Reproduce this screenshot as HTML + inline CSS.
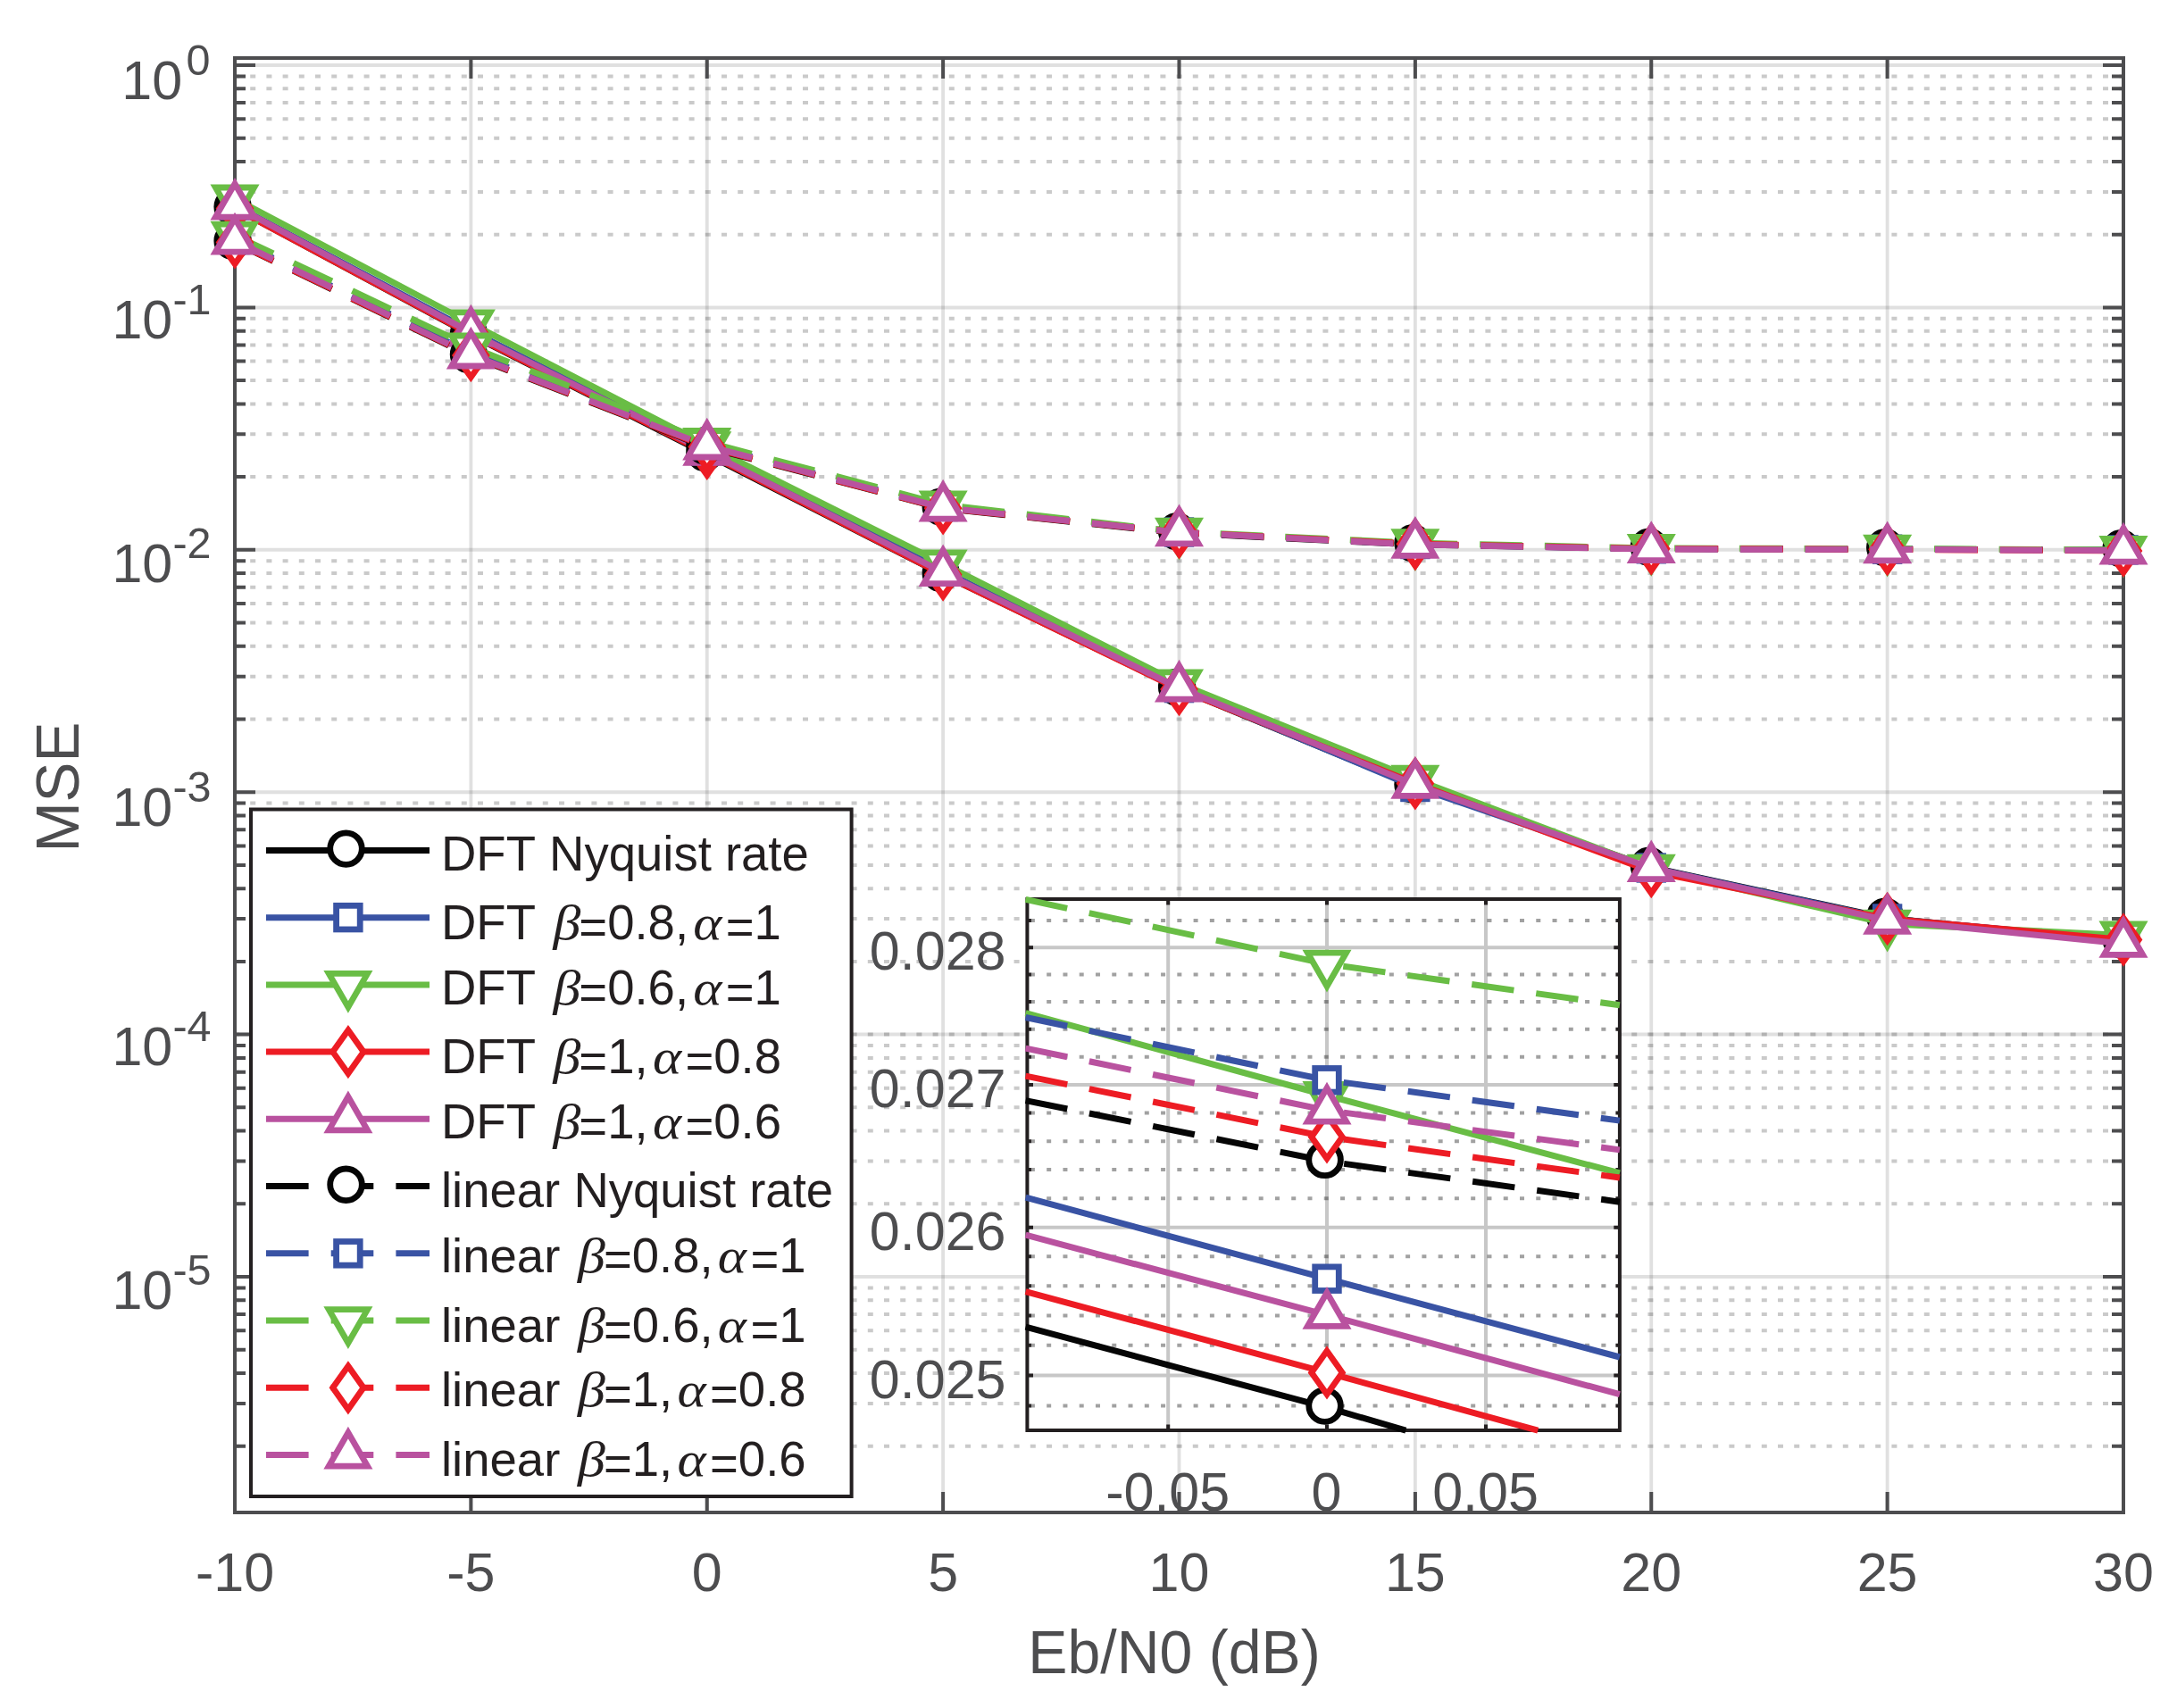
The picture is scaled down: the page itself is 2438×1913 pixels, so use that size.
<!DOCTYPE html>
<html lang="en"><head><meta charset="utf-8"><title>MSE versus Eb/N0</title>
<style>html,body{margin:0;padding:0;background:#fff}svg{display:block}text{font-family:"Liberation Sans",sans-serif}.gk{font-family:"Liberation Serif","DejaVu Serif",serif;font-style:italic;font-size:52.5px}</style></head><body>
<svg width="2438" height="1913" viewBox="0 0 2438 1913">
<rect width="2438" height="1913" fill="#fff"/>
<g id="main-grid" fill="none">
<path d="M262 262.7H2378M262 214.91H2378M262 181H2378M262 154.7H2378M262 133.21H2378M262 115.04H2378M262 99.3H2378M262 85.42H2378M262 534.1H2378M262 486.31H2378M262 452.4H2378M262 426.1H2378M262 404.61H2378M262 386.44H2378M262 370.7H2378M262 356.82H2378M262 805.5H2378M262 757.71H2378M262 723.8H2378M262 697.5H2378M262 676.01H2378M262 657.84H2378M262 642.1H2378M262 628.22H2378M262 1076.9H2378M262 1029.11H2378M262 995.2H2378M262 968.9H2378M262 947.41H2378M262 929.24H2378M262 913.5H2378M262 899.62H2378M262 1348.3H2378M262 1300.51H2378M262 1266.6H2378M262 1240.3H2378M262 1218.81H2378M262 1200.64H2378M262 1184.9H2378M262 1171.02H2378M262 1619.7H2378M262 1571.91H2378M262 1538H2378M262 1511.7H2378M262 1490.21H2378M262 1472.04H2378M262 1456.3H2378M262 1442.42H2378M262 1158.6H2378" stroke="#262626" stroke-opacity="0.245" stroke-width="4" stroke-dasharray="6 12.2"/>
<path d="M263 73H2378M263 344.4H2378M263 615.8H2378M263 887.2H2378M263 1158.6H2378M263 1430H2378" stroke="#262626" stroke-opacity="0.145" stroke-width="4"/>
<path d="M527.38 65V1694M791.75 65V1694M1056.12 65V1694M1320.5 65V1694M1584.88 65V1694M1849.25 65V1694M2113.62 65V1694" stroke="#262626" stroke-opacity="0.145" stroke-width="3.8"/>
</g>
<g id="main-axes" fill="none" stroke="#4d4d4f" stroke-width="4">
<rect x="263" y="65" width="2115" height="1629"/>
<path d="M527.38 1694v-23M527.38 65v23M791.75 1694v-23M791.75 65v23M1056.12 1694v-23M1056.12 65v23M1320.5 1694v-23M1320.5 65v23M1584.88 1694v-23M1584.88 65v23M1849.25 1694v-23M1849.25 65v23M2113.62 1694v-23M2113.62 65v23M263 73h23M2378 73h-23M263 262.7h12M2378 262.7h-13M263 214.91h12M2378 214.91h-13M263 181h12M2378 181h-13M263 154.7h12M2378 154.7h-13M263 133.21h12M2378 133.21h-13M263 115.04h12M2378 115.04h-13M263 99.3h12M2378 99.3h-13M263 85.42h12M2378 85.42h-13M263 344.4h23M2378 344.4h-23M263 534.1h12M2378 534.1h-13M263 486.31h12M2378 486.31h-13M263 452.4h12M2378 452.4h-13M263 426.1h12M2378 426.1h-13M263 404.61h12M2378 404.61h-13M263 386.44h12M2378 386.44h-13M263 370.7h12M2378 370.7h-13M263 356.82h12M2378 356.82h-13M263 615.8h23M2378 615.8h-23M263 805.5h12M2378 805.5h-13M263 757.71h12M2378 757.71h-13M263 723.8h12M2378 723.8h-13M263 697.5h12M2378 697.5h-13M263 676.01h12M2378 676.01h-13M263 657.84h12M2378 657.84h-13M263 642.1h12M2378 642.1h-13M263 628.22h12M2378 628.22h-13M263 887.2h23M2378 887.2h-23M263 1076.9h12M2378 1076.9h-13M263 1029.11h12M2378 1029.11h-13M263 995.2h12M2378 995.2h-13M263 968.9h12M2378 968.9h-13M263 947.41h12M2378 947.41h-13M263 929.24h12M2378 929.24h-13M263 913.5h12M2378 913.5h-13M263 899.62h12M2378 899.62h-13M263 1158.6h23M2378 1158.6h-23M263 1348.3h12M2378 1348.3h-13M263 1300.51h12M2378 1300.51h-13M263 1266.6h12M2378 1266.6h-13M263 1240.3h12M2378 1240.3h-13M263 1218.81h12M2378 1218.81h-13M263 1200.64h12M2378 1200.64h-13M263 1184.9h12M2378 1184.9h-13M263 1171.02h12M2378 1171.02h-13M263 1430h23M2378 1430h-23M263 1619.7h12M2378 1619.7h-13M263 1571.91h12M2378 1571.91h-13M263 1538h12M2378 1538h-13M263 1511.7h12M2378 1511.7h-13M263 1490.21h12M2378 1490.21h-13M263 1472.04h12M2378 1472.04h-13M263 1456.3h12M2378 1456.3h-13M263 1442.42h12M2378 1442.42h-13"/>
</g>
<g id="curves-dft">
<polyline points="263,233.2 527.38,375.2 791.75,508.8 1056.12,643.7 1320.5,771.4 1584.88,880.4 1849.25,971.5 2113.62,1028.4 2378,1054" fill="none" stroke="#050505" stroke-width="7" stroke-linejoin="round"/>
<circle cx="260.6" cy="231.4" r="17.8" fill="#fff" stroke="#050505" stroke-width="6.8" stroke-linejoin="miter" stroke-miterlimit="10"/><circle cx="524.98" cy="373.4" r="17.8" fill="#fff" stroke="#050505" stroke-width="6.8" stroke-linejoin="miter" stroke-miterlimit="10"/><circle cx="789.35" cy="507" r="17.8" fill="#fff" stroke="#050505" stroke-width="6.8" stroke-linejoin="miter" stroke-miterlimit="10"/><circle cx="1053.72" cy="641.9" r="17.8" fill="#fff" stroke="#050505" stroke-width="6.8" stroke-linejoin="miter" stroke-miterlimit="10"/><circle cx="1318.1" cy="769.6" r="17.8" fill="#fff" stroke="#050505" stroke-width="6.8" stroke-linejoin="miter" stroke-miterlimit="10"/><circle cx="1582.47" cy="878.6" r="17.8" fill="#fff" stroke="#050505" stroke-width="6.8" stroke-linejoin="miter" stroke-miterlimit="10"/><circle cx="1846.85" cy="969.7" r="17.8" fill="#fff" stroke="#050505" stroke-width="6.8" stroke-linejoin="miter" stroke-miterlimit="10"/><circle cx="2111.22" cy="1026.6" r="17.8" fill="#fff" stroke="#050505" stroke-width="6.8" stroke-linejoin="miter" stroke-miterlimit="10"/><circle cx="2375.6" cy="1052.2" r="17.8" fill="#fff" stroke="#050505" stroke-width="6.8" stroke-linejoin="miter" stroke-miterlimit="10"/>
<polyline points="263,230 527.38,370.7 791.75,504.8 1056.12,639 1320.5,770.6 1584.88,881.5 1849.25,972 2113.62,1029 2378,1053" fill="none" stroke="#3953a4" stroke-width="7" stroke-linejoin="round"/>
<rect x="249.7" y="216.7" width="26.6" height="26.6" fill="#fff" stroke="#3953a4" stroke-width="6.8" stroke-linejoin="miter" stroke-miterlimit="10"/><rect x="514.08" y="357.4" width="26.6" height="26.6" fill="#fff" stroke="#3953a4" stroke-width="6.8" stroke-linejoin="miter" stroke-miterlimit="10"/><rect x="778.45" y="491.5" width="26.6" height="26.6" fill="#fff" stroke="#3953a4" stroke-width="6.8" stroke-linejoin="miter" stroke-miterlimit="10"/><rect x="1042.83" y="625.7" width="26.6" height="26.6" fill="#fff" stroke="#3953a4" stroke-width="6.8" stroke-linejoin="miter" stroke-miterlimit="10"/><rect x="1307.2" y="757.3" width="26.6" height="26.6" fill="#fff" stroke="#3953a4" stroke-width="6.8" stroke-linejoin="miter" stroke-miterlimit="10"/><rect x="1571.58" y="868.2" width="26.6" height="26.6" fill="#fff" stroke="#3953a4" stroke-width="6.8" stroke-linejoin="miter" stroke-miterlimit="10"/><rect x="1835.95" y="958.7" width="26.6" height="26.6" fill="#fff" stroke="#3953a4" stroke-width="6.8" stroke-linejoin="miter" stroke-miterlimit="10"/><rect x="2100.32" y="1015.7" width="26.6" height="26.6" fill="#fff" stroke="#3953a4" stroke-width="6.8" stroke-linejoin="miter" stroke-miterlimit="10"/><rect x="2364.7" y="1039.7" width="26.6" height="26.6" fill="#fff" stroke="#3953a4" stroke-width="6.8" stroke-linejoin="miter" stroke-miterlimit="10"/>
<polyline points="263,222.5 527.38,362.3 791.75,499.1 1056.12,631.4 1320.5,765.4 1584.88,872.7 1849.25,972.6 2113.62,1034.7 2378,1047.4" fill="none" stroke="#69bd45" stroke-width="7" stroke-linejoin="round"/>
<path d="M241.35 210L284.65 210L263 247.5Z" fill="#fff" stroke="#69bd45" stroke-width="6.8" stroke-linejoin="miter" stroke-miterlimit="10"/><path d="M505.73 349.8L549.02 349.8L527.38 387.3Z" fill="#fff" stroke="#69bd45" stroke-width="6.8" stroke-linejoin="miter" stroke-miterlimit="10"/><path d="M770.1 486.6L813.4 486.6L791.75 524.1Z" fill="#fff" stroke="#69bd45" stroke-width="6.8" stroke-linejoin="miter" stroke-miterlimit="10"/><path d="M1034.47 618.9L1077.78 618.9L1056.12 656.4Z" fill="#fff" stroke="#69bd45" stroke-width="6.8" stroke-linejoin="miter" stroke-miterlimit="10"/><path d="M1298.85 752.9L1342.15 752.9L1320.5 790.4Z" fill="#fff" stroke="#69bd45" stroke-width="6.8" stroke-linejoin="miter" stroke-miterlimit="10"/><path d="M1563.22 860.2L1606.53 860.2L1584.88 897.7Z" fill="#fff" stroke="#69bd45" stroke-width="6.8" stroke-linejoin="miter" stroke-miterlimit="10"/><path d="M1827.6 960.1L1870.9 960.1L1849.25 997.6Z" fill="#fff" stroke="#69bd45" stroke-width="6.8" stroke-linejoin="miter" stroke-miterlimit="10"/><path d="M2091.97 1022.2L2135.28 1022.2L2113.62 1059.7Z" fill="#fff" stroke="#69bd45" stroke-width="6.8" stroke-linejoin="miter" stroke-miterlimit="10"/><path d="M2356.35 1034.9L2399.65 1034.9L2378 1072.4Z" fill="#fff" stroke="#69bd45" stroke-width="6.8" stroke-linejoin="miter" stroke-miterlimit="10"/>
<polyline points="263,233.5 527.38,374.6 791.75,507.7 1056.12,643.6 1320.5,772 1584.88,877.4 1849.25,976 2113.62,1029 2378,1052.5" fill="none" stroke="#ed1c24" stroke-width="7" stroke-linejoin="round"/>
<path d="M263 209.2L280.2 233.5L263 257.8L245.8 233.5Z" fill="#fff" stroke="#ed1c24" stroke-width="6.8" stroke-linejoin="miter" stroke-miterlimit="10"/><path d="M527.38 350.3L544.58 374.6L527.38 398.9L510.18 374.6Z" fill="#fff" stroke="#ed1c24" stroke-width="6.8" stroke-linejoin="miter" stroke-miterlimit="10"/><path d="M791.75 483.4L808.95 507.7L791.75 532L774.55 507.7Z" fill="#fff" stroke="#ed1c24" stroke-width="6.8" stroke-linejoin="miter" stroke-miterlimit="10"/><path d="M1056.12 619.3L1073.33 643.6L1056.12 667.9L1038.92 643.6Z" fill="#fff" stroke="#ed1c24" stroke-width="6.8" stroke-linejoin="miter" stroke-miterlimit="10"/><path d="M1320.5 747.7L1337.7 772L1320.5 796.3L1303.3 772Z" fill="#fff" stroke="#ed1c24" stroke-width="6.8" stroke-linejoin="miter" stroke-miterlimit="10"/><path d="M1584.88 853.1L1602.08 877.4L1584.88 901.7L1567.67 877.4Z" fill="#fff" stroke="#ed1c24" stroke-width="6.8" stroke-linejoin="miter" stroke-miterlimit="10"/><path d="M1849.25 951.7L1866.45 976L1849.25 1000.3L1832.05 976Z" fill="#fff" stroke="#ed1c24" stroke-width="6.8" stroke-linejoin="miter" stroke-miterlimit="10"/><path d="M2113.62 1004.7L2130.82 1029L2113.62 1053.3L2096.43 1029Z" fill="#fff" stroke="#ed1c24" stroke-width="6.8" stroke-linejoin="miter" stroke-miterlimit="10"/><path d="M2378 1028.2L2395.2 1052.5L2378 1076.8L2360.8 1052.5Z" fill="#fff" stroke="#ed1c24" stroke-width="6.8" stroke-linejoin="miter" stroke-miterlimit="10"/>
<polyline points="263,230.7 527.38,372.5 791.75,505.9 1056.12,641.2 1320.5,770.6 1584.88,878.9 1849.25,972.2 2113.62,1030.8 2378,1056.9" fill="none" stroke="#b9529f" stroke-width="7" stroke-linejoin="round"/>
<path d="M241.35 243.2L284.65 243.2L263 205.7Z" fill="#fff" stroke="#b9529f" stroke-width="6.8" stroke-linejoin="miter" stroke-miterlimit="10"/><path d="M505.73 385L549.02 385L527.38 347.5Z" fill="#fff" stroke="#b9529f" stroke-width="6.8" stroke-linejoin="miter" stroke-miterlimit="10"/><path d="M770.1 518.4L813.4 518.4L791.75 480.9Z" fill="#fff" stroke="#b9529f" stroke-width="6.8" stroke-linejoin="miter" stroke-miterlimit="10"/><path d="M1034.47 653.7L1077.78 653.7L1056.12 616.2Z" fill="#fff" stroke="#b9529f" stroke-width="6.8" stroke-linejoin="miter" stroke-miterlimit="10"/><path d="M1298.85 783.1L1342.15 783.1L1320.5 745.6Z" fill="#fff" stroke="#b9529f" stroke-width="6.8" stroke-linejoin="miter" stroke-miterlimit="10"/><path d="M1563.22 891.4L1606.53 891.4L1584.88 853.9Z" fill="#fff" stroke="#b9529f" stroke-width="6.8" stroke-linejoin="miter" stroke-miterlimit="10"/><path d="M1827.6 984.7L1870.9 984.7L1849.25 947.2Z" fill="#fff" stroke="#b9529f" stroke-width="6.8" stroke-linejoin="miter" stroke-miterlimit="10"/><path d="M2091.97 1043.3L2135.28 1043.3L2113.62 1005.8Z" fill="#fff" stroke="#b9529f" stroke-width="6.8" stroke-linejoin="miter" stroke-miterlimit="10"/><path d="M2356.35 1069.4L2399.65 1069.4L2378 1031.9Z" fill="#fff" stroke="#b9529f" stroke-width="6.8" stroke-linejoin="miter" stroke-miterlimit="10"/>
</g>
<g id="curves-linear">
<polyline points="263,271.6 527.38,398.8 791.75,501.1 1056.12,569.4 1320.5,597 1584.88,610 1849.25,614.5 2113.62,615 2378,616.1" fill="none" stroke="#050505" stroke-width="7" stroke-linejoin="round" stroke-dasharray="47.6 25.1"/>
<circle cx="260.6" cy="269.8" r="17.8" fill="#fff" stroke="#050505" stroke-width="6.8" stroke-linejoin="miter" stroke-miterlimit="10"/><circle cx="524.98" cy="397" r="17.8" fill="#fff" stroke="#050505" stroke-width="6.8" stroke-linejoin="miter" stroke-miterlimit="10"/><circle cx="789.35" cy="499.3" r="17.8" fill="#fff" stroke="#050505" stroke-width="6.8" stroke-linejoin="miter" stroke-miterlimit="10"/><circle cx="1053.72" cy="567.6" r="17.8" fill="#fff" stroke="#050505" stroke-width="6.8" stroke-linejoin="miter" stroke-miterlimit="10"/><circle cx="1318.1" cy="595.2" r="17.8" fill="#fff" stroke="#050505" stroke-width="6.8" stroke-linejoin="miter" stroke-miterlimit="10"/><circle cx="1582.47" cy="608.2" r="17.8" fill="#fff" stroke="#050505" stroke-width="6.8" stroke-linejoin="miter" stroke-miterlimit="10"/><circle cx="1846.85" cy="612.7" r="17.8" fill="#fff" stroke="#050505" stroke-width="6.8" stroke-linejoin="miter" stroke-miterlimit="10"/><circle cx="2111.22" cy="613.2" r="17.8" fill="#fff" stroke="#050505" stroke-width="6.8" stroke-linejoin="miter" stroke-miterlimit="10"/><circle cx="2375.6" cy="614.3" r="17.8" fill="#fff" stroke="#050505" stroke-width="6.8" stroke-linejoin="miter" stroke-miterlimit="10"/>
<polyline points="263,268.5 527.38,395.3 791.75,498.6 1056.12,567.5 1320.5,596 1584.88,609.5 1849.25,614.8 2113.62,615.2 2378,615.9" fill="none" stroke="#3953a4" stroke-width="7" stroke-linejoin="round" stroke-dasharray="47.6 25.1"/>
<rect x="249.7" y="255.2" width="26.6" height="26.6" fill="#fff" stroke="#3953a4" stroke-width="6.8" stroke-linejoin="miter" stroke-miterlimit="10"/><rect x="514.08" y="382" width="26.6" height="26.6" fill="#fff" stroke="#3953a4" stroke-width="6.8" stroke-linejoin="miter" stroke-miterlimit="10"/><rect x="778.45" y="485.3" width="26.6" height="26.6" fill="#fff" stroke="#3953a4" stroke-width="6.8" stroke-linejoin="miter" stroke-miterlimit="10"/><rect x="1042.83" y="554.2" width="26.6" height="26.6" fill="#fff" stroke="#3953a4" stroke-width="6.8" stroke-linejoin="miter" stroke-miterlimit="10"/><rect x="1307.2" y="582.7" width="26.6" height="26.6" fill="#fff" stroke="#3953a4" stroke-width="6.8" stroke-linejoin="miter" stroke-miterlimit="10"/><rect x="1571.58" y="596.2" width="26.6" height="26.6" fill="#fff" stroke="#3953a4" stroke-width="6.8" stroke-linejoin="miter" stroke-miterlimit="10"/><rect x="1835.95" y="601.5" width="26.6" height="26.6" fill="#fff" stroke="#3953a4" stroke-width="6.8" stroke-linejoin="miter" stroke-miterlimit="10"/><rect x="2100.32" y="601.9" width="26.6" height="26.6" fill="#fff" stroke="#3953a4" stroke-width="6.8" stroke-linejoin="miter" stroke-miterlimit="10"/><rect x="2364.7" y="602.6" width="26.6" height="26.6" fill="#fff" stroke="#3953a4" stroke-width="6.8" stroke-linejoin="miter" stroke-miterlimit="10"/>
<polyline points="263,263.6 527.38,388.5 791.75,495 1056.12,565.3 1320.5,595.6 1584.88,608.1 1849.25,614 2113.62,614.6 2378,615.8" fill="none" stroke="#69bd45" stroke-width="7" stroke-linejoin="round" stroke-dasharray="47.6 25.1"/>
<path d="M241.35 251.1L284.65 251.1L263 288.6Z" fill="#fff" stroke="#69bd45" stroke-width="6.8" stroke-linejoin="miter" stroke-miterlimit="10"/><path d="M505.73 376L549.02 376L527.38 413.5Z" fill="#fff" stroke="#69bd45" stroke-width="6.8" stroke-linejoin="miter" stroke-miterlimit="10"/><path d="M770.1 482.5L813.4 482.5L791.75 520Z" fill="#fff" stroke="#69bd45" stroke-width="6.8" stroke-linejoin="miter" stroke-miterlimit="10"/><path d="M1034.47 552.8L1077.78 552.8L1056.12 590.3Z" fill="#fff" stroke="#69bd45" stroke-width="6.8" stroke-linejoin="miter" stroke-miterlimit="10"/><path d="M1298.85 583.1L1342.15 583.1L1320.5 620.6Z" fill="#fff" stroke="#69bd45" stroke-width="6.8" stroke-linejoin="miter" stroke-miterlimit="10"/><path d="M1563.22 595.6L1606.53 595.6L1584.88 633.1Z" fill="#fff" stroke="#69bd45" stroke-width="6.8" stroke-linejoin="miter" stroke-miterlimit="10"/><path d="M1827.6 601.5L1870.9 601.5L1849.25 639Z" fill="#fff" stroke="#69bd45" stroke-width="6.8" stroke-linejoin="miter" stroke-miterlimit="10"/><path d="M2091.97 602.1L2135.28 602.1L2113.62 639.6Z" fill="#fff" stroke="#69bd45" stroke-width="6.8" stroke-linejoin="miter" stroke-miterlimit="10"/><path d="M2356.35 603.3L2399.65 603.3L2378 640.8Z" fill="#fff" stroke="#69bd45" stroke-width="6.8" stroke-linejoin="miter" stroke-miterlimit="10"/>
<polyline points="263,271.4 527.38,398.1 791.75,500.4 1056.12,569.2 1320.5,596.3 1584.88,609.2 1849.25,614.6 2113.62,615.3 2378,616.9" fill="none" stroke="#ed1c24" stroke-width="7" stroke-linejoin="round" stroke-dasharray="47.6 25.1"/>
<path d="M263 247.1L280.2 271.4L263 295.7L245.8 271.4Z" fill="#fff" stroke="#ed1c24" stroke-width="6.8" stroke-linejoin="miter" stroke-miterlimit="10"/><path d="M527.38 373.8L544.58 398.1L527.38 422.4L510.18 398.1Z" fill="#fff" stroke="#ed1c24" stroke-width="6.8" stroke-linejoin="miter" stroke-miterlimit="10"/><path d="M791.75 476.1L808.95 500.4L791.75 524.7L774.55 500.4Z" fill="#fff" stroke="#ed1c24" stroke-width="6.8" stroke-linejoin="miter" stroke-miterlimit="10"/><path d="M1056.12 544.9L1073.33 569.2L1056.12 593.5L1038.92 569.2Z" fill="#fff" stroke="#ed1c24" stroke-width="6.8" stroke-linejoin="miter" stroke-miterlimit="10"/><path d="M1320.5 572L1337.7 596.3L1320.5 620.6L1303.3 596.3Z" fill="#fff" stroke="#ed1c24" stroke-width="6.8" stroke-linejoin="miter" stroke-miterlimit="10"/><path d="M1584.88 584.9L1602.08 609.2L1584.88 633.5L1567.67 609.2Z" fill="#fff" stroke="#ed1c24" stroke-width="6.8" stroke-linejoin="miter" stroke-miterlimit="10"/><path d="M1849.25 590.3L1866.45 614.6L1849.25 638.9L1832.05 614.6Z" fill="#fff" stroke="#ed1c24" stroke-width="6.8" stroke-linejoin="miter" stroke-miterlimit="10"/><path d="M2113.62 591L2130.82 615.3L2113.62 639.6L2096.43 615.3Z" fill="#fff" stroke="#ed1c24" stroke-width="6.8" stroke-linejoin="miter" stroke-miterlimit="10"/><path d="M2378 592.6L2395.2 616.9L2378 641.2L2360.8 616.9Z" fill="#fff" stroke="#ed1c24" stroke-width="6.8" stroke-linejoin="miter" stroke-miterlimit="10"/>
<polyline points="263,269.6 527.38,397.5 791.75,499.5 1056.12,568.6 1320.5,596.3 1584.88,609.9 1849.25,615.1 2113.62,615.3 2378,616.6" fill="none" stroke="#b9529f" stroke-width="7" stroke-linejoin="round" stroke-dasharray="47.6 25.1"/>
<path d="M241.35 282.1L284.65 282.1L263 244.6Z" fill="#fff" stroke="#b9529f" stroke-width="6.8" stroke-linejoin="miter" stroke-miterlimit="10"/><path d="M505.73 410L549.02 410L527.38 372.5Z" fill="#fff" stroke="#b9529f" stroke-width="6.8" stroke-linejoin="miter" stroke-miterlimit="10"/><path d="M770.1 512L813.4 512L791.75 474.5Z" fill="#fff" stroke="#b9529f" stroke-width="6.8" stroke-linejoin="miter" stroke-miterlimit="10"/><path d="M1034.47 581.1L1077.78 581.1L1056.12 543.6Z" fill="#fff" stroke="#b9529f" stroke-width="6.8" stroke-linejoin="miter" stroke-miterlimit="10"/><path d="M1298.85 608.8L1342.15 608.8L1320.5 571.3Z" fill="#fff" stroke="#b9529f" stroke-width="6.8" stroke-linejoin="miter" stroke-miterlimit="10"/><path d="M1563.22 622.4L1606.53 622.4L1584.88 584.9Z" fill="#fff" stroke="#b9529f" stroke-width="6.8" stroke-linejoin="miter" stroke-miterlimit="10"/><path d="M1827.6 627.6L1870.9 627.6L1849.25 590.1Z" fill="#fff" stroke="#b9529f" stroke-width="6.8" stroke-linejoin="miter" stroke-miterlimit="10"/><path d="M2091.97 627.8L2135.28 627.8L2113.62 590.3Z" fill="#fff" stroke="#b9529f" stroke-width="6.8" stroke-linejoin="miter" stroke-miterlimit="10"/><path d="M2356.35 629.1L2399.65 629.1L2378 591.6Z" fill="#fff" stroke="#b9529f" stroke-width="6.8" stroke-linejoin="miter" stroke-miterlimit="10"/>
</g>
<g id="main-labels" fill="#4d4d4f" font-size="61">
<text x="263" y="1781.5" text-anchor="middle">-10</text>
<text x="527.38" y="1781.5" text-anchor="middle">-5</text>
<text x="791.75" y="1781.5" text-anchor="middle">0</text>
<text x="1056.12" y="1781.5" text-anchor="middle">5</text>
<text x="1320.5" y="1781.5" text-anchor="middle">10</text>
<text x="1584.88" y="1781.5" text-anchor="middle">15</text>
<text x="1849.25" y="1781.5" text-anchor="middle">20</text>
<text x="2113.62" y="1781.5" text-anchor="middle">25</text>
<text x="2378" y="1781.5" text-anchor="middle">30</text>
<text x="235.6" y="110.8" text-anchor="end">10<tspan font-size="48.5" dx="4.5" dy="-26.9">0</tspan></text>
<text x="236.6" y="379.3" text-anchor="end">10<tspan font-size="48.5" dx="0.2" dy="-26.9">-1</tspan></text>
<text x="236.6" y="651.6" text-anchor="end">10<tspan font-size="48.5" dx="0.2" dy="-26.9">-2</tspan></text>
<text x="236.6" y="925.1" text-anchor="end">10<tspan font-size="48.5" dx="0.2" dy="-26.9">-3</tspan></text>
<text x="236.6" y="1193.1" text-anchor="end">10<tspan font-size="48.5" dx="0.2" dy="-26.9">-4</tspan></text>
<text x="236.6" y="1465.8" text-anchor="end">10<tspan font-size="48.5" dx="0.2" dy="-26.9">-5</tspan></text>
<text transform="translate(1315 1873.7) scale(1 1.037)" text-anchor="middle" font-size="66.2">Eb/N0 (dB)</text>
<text transform="translate(87.5 881.5) rotate(-90) scale(1 1.02)" text-anchor="middle" font-size="67.4">MSE</text>
</g>
<g id="legend">
<rect x="281" y="906.5" width="672.6" height="769.5" fill="#fff" stroke="#231f20" stroke-width="4"/>
<line x1="298" y1="952.4" x2="481" y2="952.4" stroke="#050505" stroke-width="7"/>
<circle cx="387.5" cy="950.6" r="17.8" fill="#fff" stroke="#050505" stroke-width="6.8" stroke-linejoin="miter" stroke-miterlimit="10"/>
<text transform="translate(0 975.2) scale(1 1.026)" x="494" font-size="54.5" fill="#231f20">DFT</text><text transform="translate(0 975.2) scale(1 1.012)" x="615.1" font-size="54.5" fill="#231f20">Nyquist rate</text>
<line x1="298" y1="1027.64" x2="481" y2="1027.64" stroke="#3953a4" stroke-width="7"/>
<rect x="376.6" y="1014.34" width="26.6" height="26.6" fill="#fff" stroke="#3953a4" stroke-width="6.8" stroke-linejoin="miter" stroke-miterlimit="10"/>
<text transform="translate(0 1052.1) scale(1 1.026)" x="494" font-size="54.5" fill="#231f20">DFT</text>
<text transform="translate(0 1052.1) scale(1 1.026)" font-size="54.5" fill="#231f20"><tspan class="gk" lengthAdjust="spacingAndGlyphs" x="619.4" textLength="30.8">β</tspan><tspan x="648.3" dy="4.4">=</tspan><tspan dy="-4.4">0.8,</tspan><tspan class="gk" lengthAdjust="spacingAndGlyphs" x="776.2" textLength="32.2">α</tspan><tspan x="812.8" dy="4.4">=</tspan><tspan dy="-4.4">1</tspan></text>
<line x1="298" y1="1102.88" x2="481" y2="1102.88" stroke="#69bd45" stroke-width="7"/>
<path d="M368.25 1090.38L411.55 1090.38L389.9 1127.88Z" fill="#fff" stroke="#69bd45" stroke-width="6.8" stroke-linejoin="miter" stroke-miterlimit="10"/>
<text transform="translate(0 1125.2) scale(1 1.026)" x="494" font-size="54.5" fill="#231f20">DFT</text>
<text transform="translate(0 1125.2) scale(1 1.026)" font-size="54.5" fill="#231f20"><tspan class="gk" lengthAdjust="spacingAndGlyphs" x="619.4" textLength="30.8">β</tspan><tspan x="648.3" dy="4.4">=</tspan><tspan dy="-4.4">0.6,</tspan><tspan class="gk" lengthAdjust="spacingAndGlyphs" x="776.2" textLength="32.2">α</tspan><tspan x="812.8" dy="4.4">=</tspan><tspan dy="-4.4">1</tspan></text>
<line x1="298" y1="1178.12" x2="481" y2="1178.12" stroke="#ed1c24" stroke-width="7"/>
<path d="M389.9 1153.82L407.1 1178.12L389.9 1202.42L372.7 1178.12Z" fill="#fff" stroke="#ed1c24" stroke-width="6.8" stroke-linejoin="miter" stroke-miterlimit="10"/>
<text transform="translate(0 1202.4) scale(1 1.026)" x="494" font-size="54.5" fill="#231f20">DFT</text>
<text transform="translate(0 1202.4) scale(1 1.026)" font-size="54.5" fill="#231f20"><tspan class="gk" lengthAdjust="spacingAndGlyphs" x="619.4" textLength="30.8">β</tspan><tspan x="648.3" dy="4.4">=</tspan><tspan dy="-4.4">1,</tspan><tspan class="gk" lengthAdjust="spacingAndGlyphs" x="731" textLength="32.2">α</tspan><tspan x="767.4" dy="4.4">=</tspan><tspan dy="-4.4">0.8</tspan></text>
<line x1="298" y1="1253.36" x2="481" y2="1253.36" stroke="#b9529f" stroke-width="7"/>
<path d="M368.25 1265.86L411.55 1265.86L389.9 1228.36Z" fill="#fff" stroke="#b9529f" stroke-width="6.8" stroke-linejoin="miter" stroke-miterlimit="10"/>
<text transform="translate(0 1275.2) scale(1 1.026)" x="494" font-size="54.5" fill="#231f20">DFT</text>
<text transform="translate(0 1275.2) scale(1 1.026)" font-size="54.5" fill="#231f20"><tspan class="gk" lengthAdjust="spacingAndGlyphs" x="619.4" textLength="30.8">β</tspan><tspan x="648.3" dy="4.4">=</tspan><tspan dy="-4.4">1,</tspan><tspan class="gk" lengthAdjust="spacingAndGlyphs" x="731" textLength="32.2">α</tspan><tspan x="767.4" dy="4.4">=</tspan><tspan dy="-4.4">0.6</tspan></text>
<line x1="298" y1="1328.6" x2="481" y2="1328.6" stroke="#050505" stroke-width="7" stroke-dasharray="47.6 25.1"/>
<circle cx="387.5" cy="1326.8" r="17.8" fill="#fff" stroke="#050505" stroke-width="6.8" stroke-linejoin="miter" stroke-miterlimit="10"/>
<text transform="translate(0 1351.8) scale(1 1.012)" x="494" font-size="54.5" fill="#231f20">linear Nyquist rate</text>
<line x1="298" y1="1403.84" x2="481" y2="1403.84" stroke="#3953a4" stroke-width="7" stroke-dasharray="47.6 25.1"/>
<rect x="376.6" y="1390.54" width="26.6" height="26.6" fill="#fff" stroke="#3953a4" stroke-width="6.8" stroke-linejoin="miter" stroke-miterlimit="10"/>
<text transform="translate(0 1424.9) scale(1 1.0)" x="494" font-size="54.5" fill="#231f20">linear</text>
<text transform="translate(0 1424.9) scale(1 1.026)" font-size="54.5" fill="#231f20"><tspan class="gk" lengthAdjust="spacingAndGlyphs" x="647" textLength="30.8">β</tspan><tspan x="675.9" dy="4.4">=</tspan><tspan dy="-4.4">0.8,</tspan><tspan class="gk" lengthAdjust="spacingAndGlyphs" x="803.8" textLength="32.2">α</tspan><tspan x="840.4" dy="4.4">=</tspan><tspan dy="-4.4">1</tspan></text>
<line x1="298" y1="1479.08" x2="481" y2="1479.08" stroke="#69bd45" stroke-width="7" stroke-dasharray="47.6 25.1"/>
<path d="M368.25 1466.58L411.55 1466.58L389.9 1504.08Z" fill="#fff" stroke="#69bd45" stroke-width="6.8" stroke-linejoin="miter" stroke-miterlimit="10"/>
<text transform="translate(0 1503) scale(1 1.0)" x="494" font-size="54.5" fill="#231f20">linear</text>
<text transform="translate(0 1503) scale(1 1.026)" font-size="54.5" fill="#231f20"><tspan class="gk" lengthAdjust="spacingAndGlyphs" x="647" textLength="30.8">β</tspan><tspan x="675.9" dy="4.4">=</tspan><tspan dy="-4.4">0.6,</tspan><tspan class="gk" lengthAdjust="spacingAndGlyphs" x="803.8" textLength="32.2">α</tspan><tspan x="840.4" dy="4.4">=</tspan><tspan dy="-4.4">1</tspan></text>
<line x1="298" y1="1554.32" x2="481" y2="1554.32" stroke="#ed1c24" stroke-width="7" stroke-dasharray="47.6 25.1"/>
<path d="M389.9 1530.02L407.1 1554.32L389.9 1578.62L372.7 1554.32Z" fill="#fff" stroke="#ed1c24" stroke-width="6.8" stroke-linejoin="miter" stroke-miterlimit="10"/>
<text transform="translate(0 1575) scale(1 1.0)" x="494" font-size="54.5" fill="#231f20">linear</text>
<text transform="translate(0 1575) scale(1 1.026)" font-size="54.5" fill="#231f20"><tspan class="gk" lengthAdjust="spacingAndGlyphs" x="647" textLength="30.8">β</tspan><tspan x="675.9" dy="4.4">=</tspan><tspan dy="-4.4">1,</tspan><tspan class="gk" lengthAdjust="spacingAndGlyphs" x="758.6" textLength="32.2">α</tspan><tspan x="795" dy="4.4">=</tspan><tspan dy="-4.4">0.8</tspan></text>
<line x1="298" y1="1629.56" x2="481" y2="1629.56" stroke="#b9529f" stroke-width="7" stroke-dasharray="47.6 25.1"/>
<path d="M368.25 1642.06L411.55 1642.06L389.9 1604.56Z" fill="#fff" stroke="#b9529f" stroke-width="6.8" stroke-linejoin="miter" stroke-miterlimit="10"/>
<text transform="translate(0 1653.1) scale(1 1.0)" x="494" font-size="54.5" fill="#231f20">linear</text>
<text transform="translate(0 1653.1) scale(1 1.026)" font-size="54.5" fill="#231f20"><tspan class="gk" lengthAdjust="spacingAndGlyphs" x="647" textLength="30.8">β</tspan><tspan x="675.9" dy="4.4">=</tspan><tspan dy="-4.4">1,</tspan><tspan class="gk" lengthAdjust="spacingAndGlyphs" x="758.6" textLength="32.2">α</tspan><tspan x="795" dy="4.4">=</tspan><tspan dy="-4.4">0.6</tspan></text>
</g>
<g id="inset">
<rect x="1150.4" y="1007" width="663.5" height="595.1" fill="#fff"/>
<path d="M1153.9 1574.52H1813.9M1153.9 1506.84H1813.9M1153.9 1473.4H1813.9M1153.9 1440.23H1813.9M1153.9 1407.31H1813.9M1153.9 1342.23H1813.9M1153.9 1310.06H1813.9M1153.9 1278.14H1813.9M1153.9 1246.45H1813.9M1153.9 1183.78H1813.9M1153.9 1152.79H1813.9M1153.9 1122.03H1813.9M1153.9 1091.49H1813.9M1153.9 1031.06H1813.9" fill="none" stroke="#262626" stroke-opacity="0.43" stroke-width="4" stroke-dasharray="5 13.27"/>
<path d="M1150.4 1540.55H1813.9M1150.4 1374.64H1813.9M1150.4 1215H1813.9M1150.4 1061.16H1813.9M1308.2 1007V1602.1M1486 1007V1602.1M1664 1007V1602.1" fill="none" stroke="#262626" stroke-opacity="0.26" stroke-width="4"/>
<path d="M1150.4 1007H1813.9V1602.1H1150.4ZM1308.2 1602.1v-6.6M1308.2 1007v6.6M1486 1602.1v-6.6M1486 1007v6.6M1664 1602.1v-6.6M1664 1007v6.6M1150.4 1540.55h6.6M1813.9 1540.55h-6.6M1150.4 1374.64h6.6M1813.9 1374.64h-6.6M1150.4 1215h6.6M1813.9 1215h-6.6M1150.4 1061.16h6.6M1813.9 1061.16h-6.6M1150.4 1574.52h4.5M1813.9 1574.52h-4.5M1150.4 1506.84h4.5M1813.9 1506.84h-4.5M1150.4 1473.4h4.5M1813.9 1473.4h-4.5M1150.4 1440.23h4.5M1813.9 1440.23h-4.5M1150.4 1407.31h4.5M1813.9 1407.31h-4.5M1150.4 1342.23h4.5M1813.9 1342.23h-4.5M1150.4 1310.06h4.5M1813.9 1310.06h-4.5M1150.4 1278.14h4.5M1813.9 1278.14h-4.5M1150.4 1246.45h4.5M1813.9 1246.45h-4.5M1150.4 1183.78h4.5M1813.9 1183.78h-4.5M1150.4 1152.79h4.5M1813.9 1152.79h-4.5M1150.4 1122.03h4.5M1813.9 1122.03h-4.5M1150.4 1091.49h4.5M1813.9 1091.49h-4.5M1150.4 1031.06h4.5M1813.9 1031.06h-4.5" fill="none" stroke="#231f20" stroke-width="4"/>
<polyline points="1148.6,1486.22 1486,1576.4 1574.33,1602.1" fill="none" stroke="#050505" stroke-width="7"/>
<circle cx="1483.6" cy="1574.6" r="17.8" fill="#fff" stroke="#050505" stroke-width="6.8" stroke-linejoin="miter" stroke-miterlimit="10"/>
<polyline points="1148.6,1341.01 1486,1432.2 1813.9,1520" fill="none" stroke="#3953a4" stroke-width="7"/>
<rect x="1472.7" y="1418.9" width="26.6" height="26.6" fill="#fff" stroke="#3953a4" stroke-width="6.8" stroke-linejoin="miter" stroke-miterlimit="10"/>
<polyline points="1148.6,1134.71 1486,1227 1813.9,1314" fill="none" stroke="#69bd45" stroke-width="7"/>
<path d="M1464.35 1214.5L1507.65 1214.5L1486 1252Z" fill="#fff" stroke="#69bd45" stroke-width="6.8" stroke-linejoin="miter" stroke-miterlimit="10"/>
<polyline points="1148.6,1446.52 1486,1537.4 1722.25,1602.1" fill="none" stroke="#ed1c24" stroke-width="7"/>
<path d="M1486 1513.1L1503.2 1537.4L1486 1561.7L1468.8 1537.4Z" fill="#fff" stroke="#ed1c24" stroke-width="6.8" stroke-linejoin="miter" stroke-miterlimit="10"/>
<polyline points="1148.6,1383.22 1486,1472.9 1813.9,1561.7" fill="none" stroke="#b9529f" stroke-width="7"/>
<path d="M1464.35 1485.4L1507.65 1485.4L1486 1447.9Z" fill="#fff" stroke="#b9529f" stroke-width="6.8" stroke-linejoin="miter" stroke-miterlimit="10"/>
<polyline points="1148.6,1232.64 1486,1300.7 1813.9,1346.2" fill="none" stroke="#050505" stroke-width="7" stroke-dasharray="47.6 25.1"/>
<circle cx="1483.6" cy="1298.9" r="17.8" fill="#fff" stroke="#050505" stroke-width="6.8" stroke-linejoin="miter" stroke-miterlimit="10"/>
<polyline points="1148.6,1139.53 1486,1209.8 1813.9,1255.1" fill="none" stroke="#3953a4" stroke-width="7" stroke-dasharray="47.6 25.1"/>
<rect x="1472.7" y="1196.5" width="26.6" height="26.6" fill="#fff" stroke="#3953a4" stroke-width="6.8" stroke-linejoin="miter" stroke-miterlimit="10"/>
<polyline points="1148.6,1007.41 1486,1079.7 1813.9,1125.8" fill="none" stroke="#69bd45" stroke-width="7" stroke-dasharray="47.6 25.1"/>
<path d="M1464.35 1067.2L1507.65 1067.2L1486 1104.7Z" fill="#fff" stroke="#69bd45" stroke-width="6.8" stroke-linejoin="miter" stroke-miterlimit="10"/>
<polyline points="1148.6,1205.14 1486,1273.4 1813.9,1319" fill="none" stroke="#ed1c24" stroke-width="7" stroke-dasharray="47.6 25.1"/>
<path d="M1486 1249.1L1503.2 1273.4L1486 1297.7L1468.8 1273.4Z" fill="#fff" stroke="#ed1c24" stroke-width="6.8" stroke-linejoin="miter" stroke-miterlimit="10"/>
<polyline points="1148.6,1174.13 1486,1243.6 1813.9,1287.9" fill="none" stroke="#b9529f" stroke-width="7" stroke-dasharray="47.6 25.1"/>
<path d="M1464.35 1256.1L1507.65 1256.1L1486 1218.6Z" fill="#fff" stroke="#b9529f" stroke-width="6.8" stroke-linejoin="miter" stroke-miterlimit="10"/>
<g fill="#4d4d4f" font-size="61">
<text x="1126.5" y="1565.65" text-anchor="end">0.025</text>
<text x="1126.5" y="1399.74" text-anchor="end">0.026</text>
<text x="1126.5" y="1240.1" text-anchor="end">0.027</text>
<text x="1126.5" y="1086.26" text-anchor="end">0.028</text>
<text x="1307.7" y="1692" text-anchor="middle">-0.05</text>
<text x="1485.5" y="1692" text-anchor="middle">0</text>
<text x="1663.5" y="1692" text-anchor="middle">0.05</text>
</g>
</g>
<path d="M261 1694H2380" stroke="#4d4d4f" stroke-width="4" fill="none"/>
</svg></body></html>
